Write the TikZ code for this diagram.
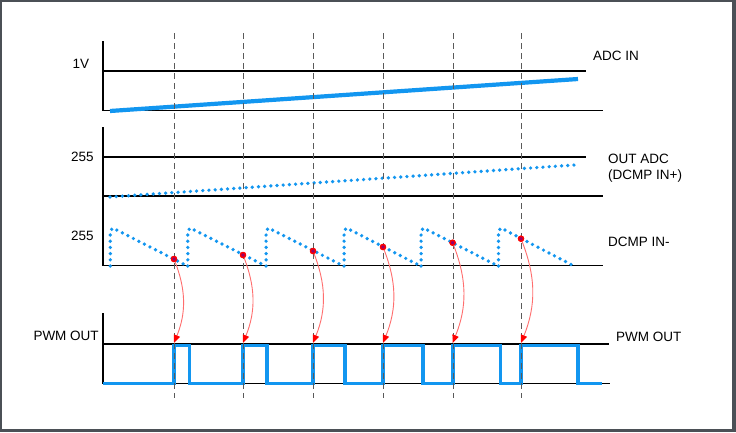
\documentclass[tikz,border=0pt]{standalone}
\usepackage{fontspec}
\setmainfont{Liberation Sans}
\usetikzlibrary{arrows.meta}
\definecolor{sig}{RGB}{18,150,240}
\definecolor{framec}{RGB}{75,80,86}
\definecolor{dashgray}{RGB}{90,90,90}
\definecolor{arrowred}{RGB}{255,110,110}
\begin{document}
\begin{tikzpicture}[x=1pt,y=-1pt,
  axis/.style={line width=1.4pt, black},
  gridline/.style={dashgray, line width=0.9pt, dash pattern=on 6pt off 4pt},
  ramp/.style={sig, line width=4.2pt},
  dots/.style={sig, line width=3.7pt, line cap=round, dash pattern=on 0pt off 6.2pt},
  pwm/.style={sig, line width=3.6pt},
  lbl/.style={font=\fontsize{13.5}{15}\selectfont, inner sep=0pt, anchor=base west},
  reddot/.style={circle, fill=red!60!blue, draw=red, line width=1.3pt, minimum size=5pt, inner sep=0pt},
  redarrow/.style={arrowred, line width=0.9pt, -{Triangle[length=8pt,width=6.5pt,color=red]}},
]
\useasboundingbox (0,0) rectangle (736,432);
\fill[framec] (0,0) rectangle (736,432);
\fill[white] (2,2) rectangle (732,429);

% axes and reference lines
\draw[axis] (103,41) -- (103,111);
\draw[axis] (103,71) -- (586,71);
\draw[axis] (103,110.7) -- (603,110.7);
\draw[axis] (103,127) -- (103,266);
\draw[axis] (103,157) -- (586,157);
\draw[axis] (103,196) -- (603,196);
\draw[axis] (103,265.7) -- (603,265.7);
\draw[axis] (103,313) -- (103,383.5);
\draw[axis] (103,344) -- (609,344);
\draw[axis] (103,383.5) -- (610,383.5);

% ADC IN ramp
\draw[ramp] (110,111) -- (578,79);
% OUT ADC dotted ramp
\draw[dots] (110,197) -- (574,165);
% DCMP IN- sawtooth
\foreach \s/\e in {110.3/187.3,187.8/265.6,266.1/343.6,344.1/420.6,421.1/498,498.5/574}
  \draw[dots] (\s,266) -- (\s,231) -- (\s+2.5,228) -- (\e,266);

% PWM OUT
\draw[pwm] (103,383.5) -- (174,383.5) -- (174,345.5) -- (189.5,345.5) -- (189.5,383.5)
  -- (243,383.5) -- (243,345.5) -- (267,345.5) -- (267,383.5)
  -- (313,383.5) -- (313,345.5) -- (345,345.5) -- (345,383.5)
  -- (383,383.5) -- (383,345.5) -- (423,345.5) -- (423,383.5)
  -- (453,383.5) -- (453,345.5) -- (500.5,345.5) -- (500.5,383.5)
  -- (521,383.5) -- (521,345.5) -- (578,345.5) -- (578,383.5) -- (601.5,383.5);

% dashed time markers
\foreach \x in {174,243,313,383,453,521}
  \draw[gridline] (\x,33) -- (\x,398);

% comparator crossing points and arrows
\foreach \i/\x/\y in {1/174/259,2/243/255,3/313/251,4/383/247,5/452.6/242.7,6/521/238.7}{
  \coordinate (p\i) at (\x,343);
  \node[reddot] (d\i) at (\x,\y) {};
  \draw[redarrow] (d\i.center) to[bend left=22] (p\i);
  \node[reddot] at (d\i) {};
}

% labels
\node[lbl] (l1v) at (72.5,68.1) {1V};
\node[lbl] (ladc) at (593,60.8) {ADC IN};
\node[lbl] (l255a) at (71,161.8) {255};
\node[lbl] (lout) at (608,163.8) {OUT ADC};
\node[lbl] (lout2) at (608,179.1) {(DCMP IN+)};
\node[lbl] (l255b) at (71,240.5) {255};
\node[lbl] (ldcmp) at (608,246.5) {DCMP IN-};
\node[lbl] (lpwml) at (33.3,340.5) {PWM OUT};
\node[lbl] (lpwmr) at (616,341.5) {PWM OUT};
\end{tikzpicture}
\end{document}
